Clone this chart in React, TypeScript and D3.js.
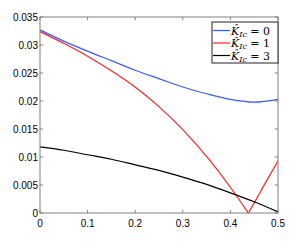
import React from 'react'
import * as d3 from 'd3'

// values
const xs = [0, 0.05, 0.1, 0.15, 0.2, 0.25, 0.3, 0.35, 0.4, 0.45, 0.5]
const blue = [0.0327, 0.0307, 0.0289, 0.0272, 0.0255, 0.024, 0.0225, 0.0213, 0.0203, 0.0198, 0.0203]
const redX = [0, 0.05, 0.1, 0.15, 0.2, 0.25, 0.3, 0.35, 0.4, 0.4377, 0.45, 0.475, 0.5]
const red = [0.0324, 0.0303, 0.028, 0.0254, 0.0225, 0.019, 0.0149, 0.0101, 0.0046, 0, 0.0018, 0.0056, 0.0093]
const black = [0.0118, 0.0112, 0.0104, 0.0096, 0.0086, 0.0076, 0.0064, 0.0051, 0.0036, 0.002, 0.0002]
const xTicks = [0, 0.1, 0.2, 0.3, 0.4, 0.5]
const yTicks = [0, 0.005, 0.01, 0.015, 0.02, 0.025, 0.03, 0.035]
const legendLabels = ['0', '1', '3']
const colors = ['#3b5bff', '#ff1f1f', '#000000']

const W = 308
const H = 241
const m = { left: 40, right: 30, top: 17, bottom: 28 }

export default function App() {
  const x = d3.scaleLinear().domain([0, 0.5]).range([m.left, W - m.right])
  const y = d3.scaleLinear().domain([0, 0.035]).range([H - m.bottom, m.top])
  const line = d3.line<[number, number]>().x(d => x(d[0])).y(d => y(d[1])).curve(d3.curveMonotoneX)

  const redPts = redX.map((v, i) => [v, red[i]] as [number, number])
  const vIdx = red.indexOf(0)
  // red is |f|, so draw the two branches separately to keep the sharp V
  const paths = [
    { pts: xs.map((v, i) => [v, blue[i]] as [number, number]), c: colors[0] },
    { pts: redPts.slice(0, vIdx + 1), c: colors[1] },
    { pts: redPts.slice(vIdx), c: colors[1] },
    { pts: xs.map((v, i) => [v, black[i]] as [number, number]), c: colors[2] },
  ]

  const x0 = x(0), x1 = x(0.5), y0 = y(0), y1 = y(0.035)
  const axisCol = '#808080'
  const lx = 212, ly = 22

  return (
    <svg width={W} height={H} style={{ position: 'absolute', left: 0, top: 0, background: '#fff' }}>
      {paths.map((p, i) => (
        <path key={i} d={line(p.pts) || ''} fill="none" stroke={p.c} strokeWidth={1.2} />
      ))}
      <rect x={x0} y={y1} width={x1 - x0} height={y0 - y1} fill="none" stroke={axisCol} strokeWidth={1} />
      {xTicks.map(t => (
        <g key={'x' + t}>
          <line x1={x(t)} x2={x(t)} y1={y0} y2={y0 - 3} stroke={axisCol} />
          <line x1={x(t)} x2={x(t)} y1={y1} y2={y1 + 3} stroke={axisCol} />
          <text x={x(t)} y={y0 + 14} textAnchor="middle" fontFamily="Liberation Sans, Arial" fontSize={10}>{t}</text>
        </g>
      ))}
      {yTicks.map(t => (
        <g key={'y' + t}>
          <line x1={x0} x2={x0 + 3} y1={y(t)} y2={y(t)} stroke={axisCol} />
          <line x1={x1} x2={x1 - 3} y1={y(t)} y2={y(t)} stroke={axisCol} />
          <text x={x0 - 2} y={y(t) + 3.5} textAnchor="end" fontFamily="Liberation Sans, Arial" fontSize={10}>{t}</text>
        </g>
      ))}
      <rect x={lx} y={ly} width={x1 - lx} height={41} fill="#fff" stroke="#222" strokeWidth={1} />
      {legendLabels.map((lab, i) => (
        <g key={lab} transform={`translate(${lx},${ly + 8.5 + i * 12.5})`}>
          <line x1={1} x2={18} y1={0} y2={0} stroke={colors[i]} strokeWidth={1.2} />
          <text x={19} y={4} fontFamily="DejaVu Serif, serif" fontSize={11}>
            <tspan fontStyle="italic">{'K\u0302'}</tspan>
            <tspan fontStyle="italic" fontSize={8} dy={2}>Ic</tspan>
            <tspan dy={-2}>{' = ' + lab}</tspan>
          </text>
        </g>
      ))}
    </svg>
  )
}
